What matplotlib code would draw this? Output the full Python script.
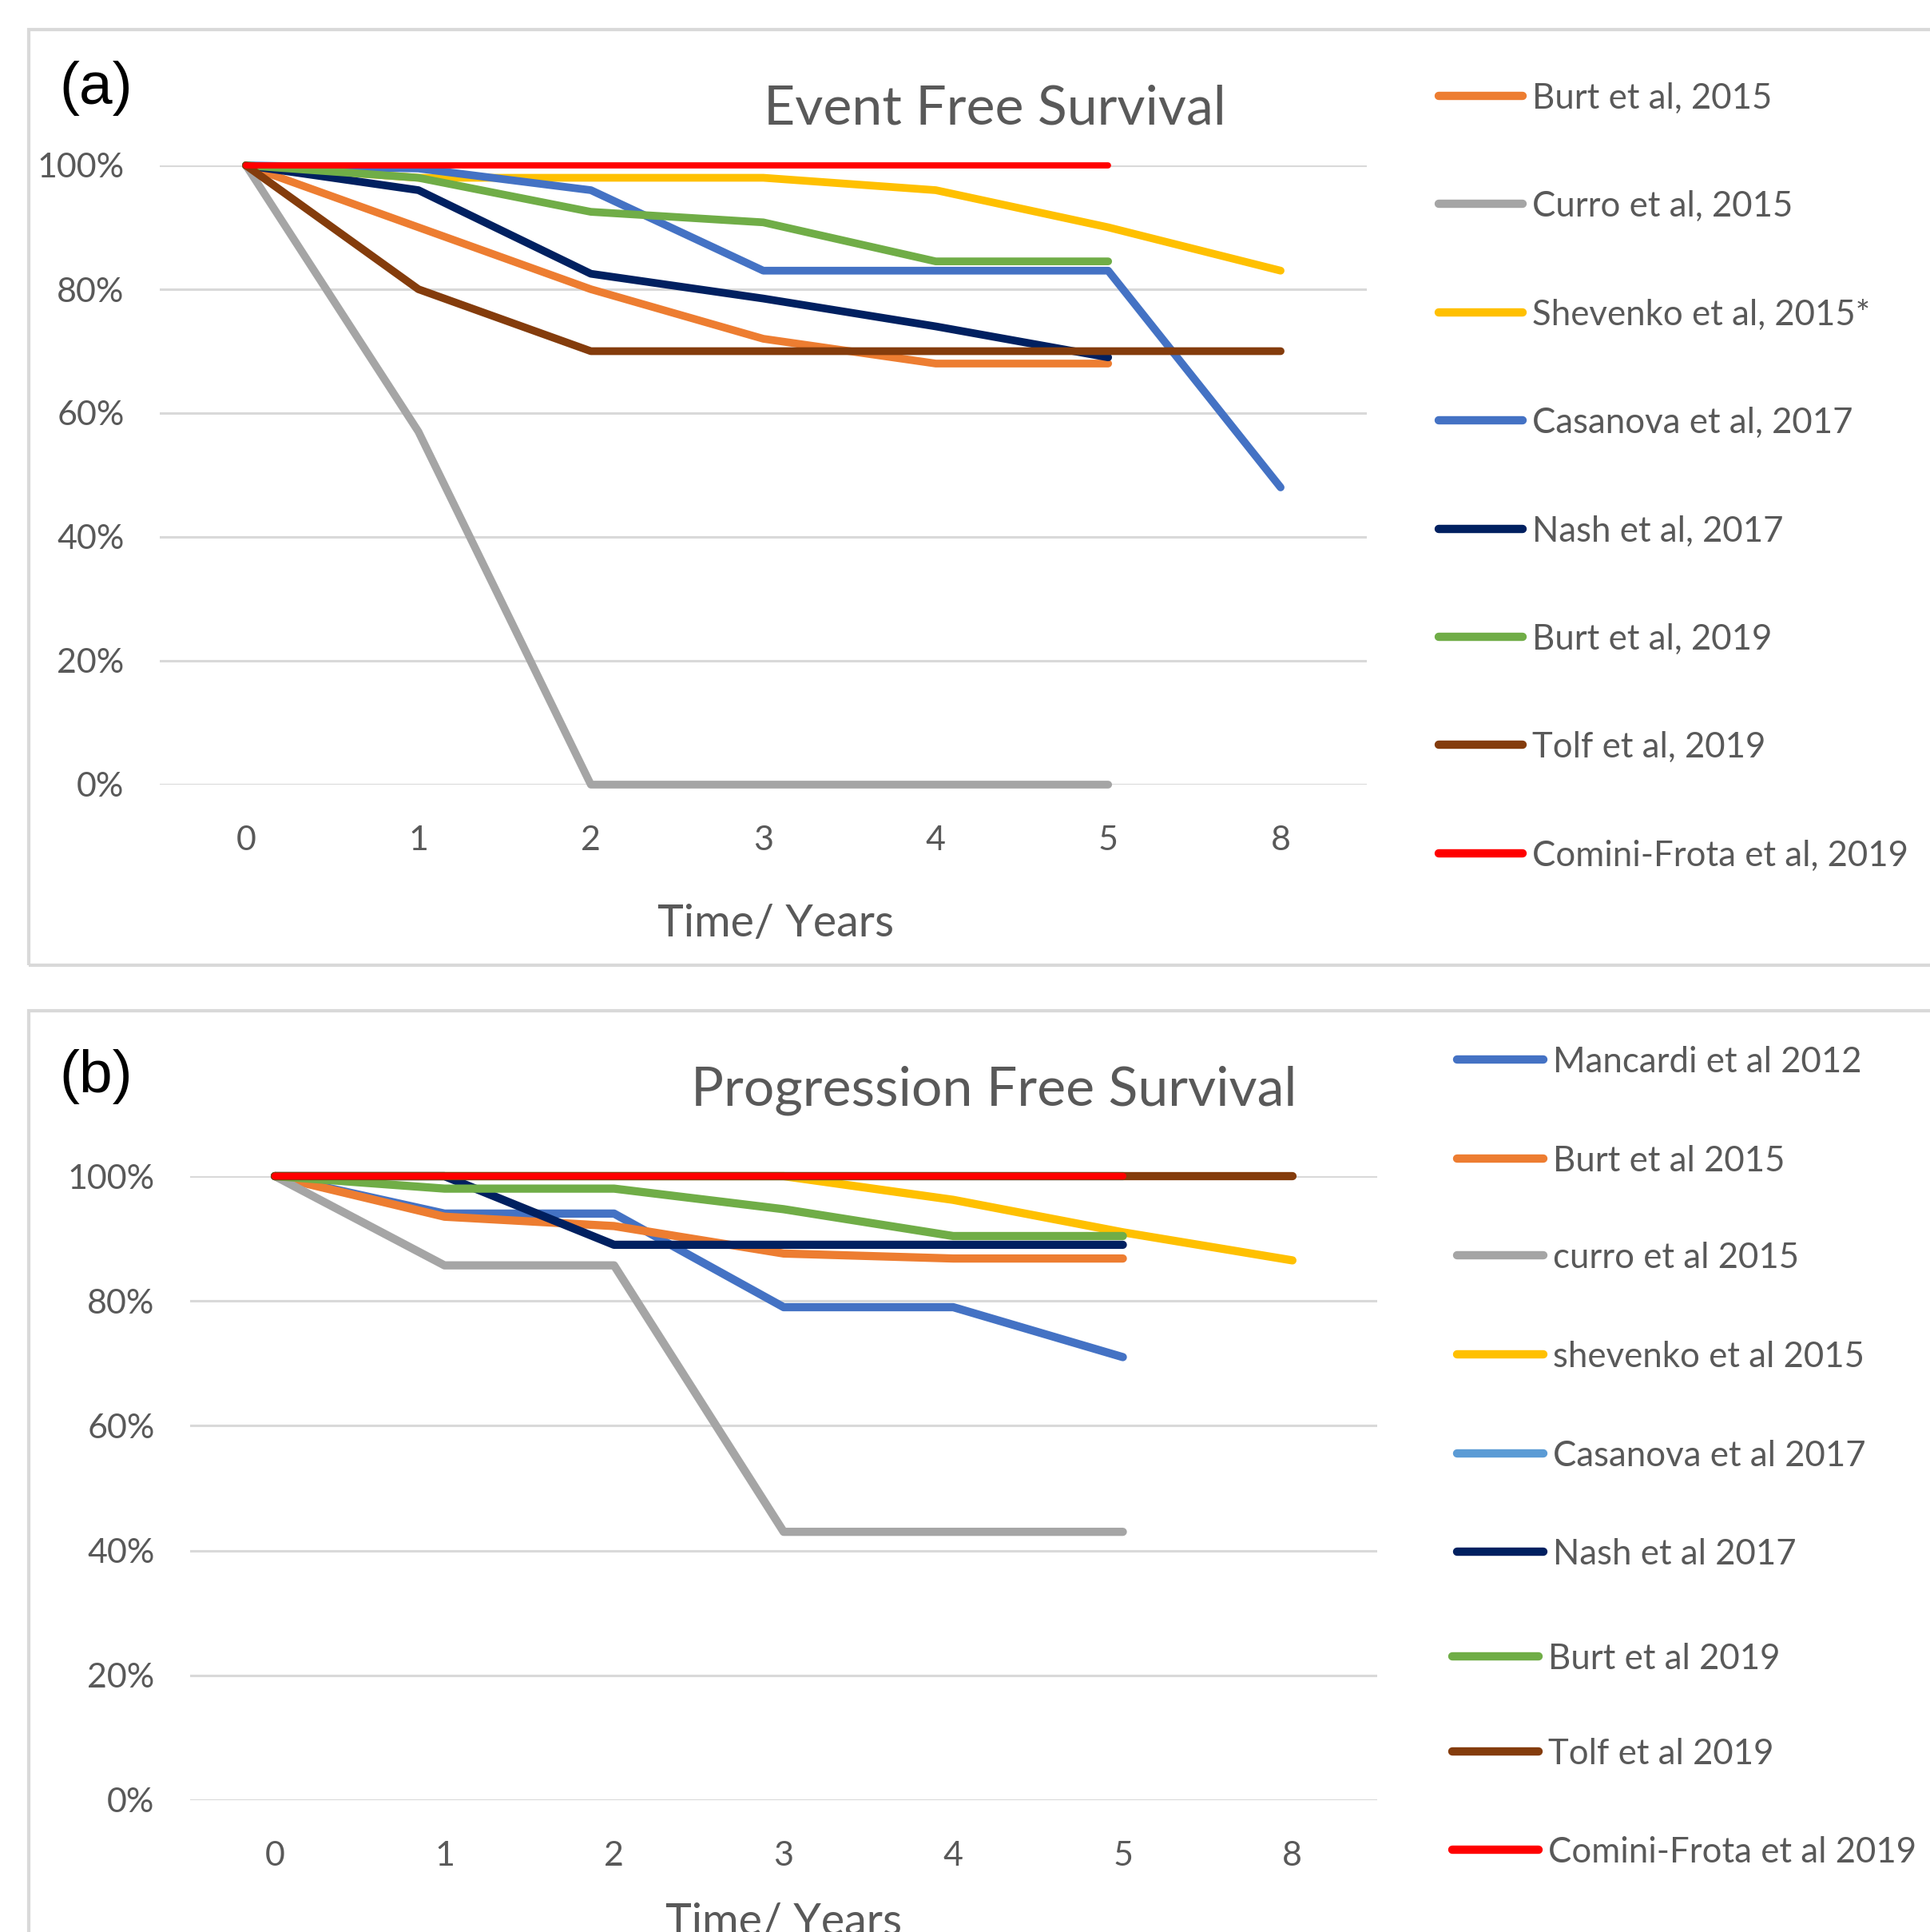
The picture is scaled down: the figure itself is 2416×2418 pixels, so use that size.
import matplotlib
matplotlib.use("Agg")
import matplotlib.pyplot as plt
from matplotlib.lines import Line2D
from matplotlib.patches import Rectangle

# --- data (percent surviving) ---
years = ['0', '1', '2', '3', '4', '5', '8']

# (a) Event free survival
efs_names = ['Burt et al, 2015', 'Curro et al, 2015', 'Shevenko et al, 2015*',
             'Casanova et al, 2017', 'Nash et al, 2017', 'Burt et al, 2019',
             'Tolf et al, 2019', 'Comini-Frota et al, 2019']
efs_burt15 = [100, 90, 80, 72, 68, 68]
efs_curro15 = [100, 57, 0, 0, 0, 0]
efs_shev15 = [100, 98, 98, 98, 96, 90, 83]
efs_casa17 = [100, 99.5, 96, 83, 83, 83, 48]
efs_nash17 = [100, 96, 82.5, 78.5, 74, 69]
efs_burt19 = [100, 98, 92.5, 90.8, 84.5, 84.5]
efs_tolf19 = [100, 80, 70, 70, 70, 70, 70]
efs_comini19 = [100, 100, 100, 100, 100, 100]

# (b) Progression free survival
pfs_names = ['Mancardi et al 2012', 'Burt et al 2015', 'curro et al 2015',
             'shevenko et al 2015', 'Casanova et al 2017', 'Nash et al 2017',
             'Burt et al 2019', 'Tolf et al 2019', 'Comini-Frota et al 2019']
pfs_manc12 = [100, 94, 94, 79, 79, 71]
pfs_burt15 = [100, 93.5, 92, 87.6, 86.8, 86.8]
pfs_curro15 = [100, 85.7, 85.7, 43, 43, 43]
pfs_shev15 = [100, 100, 100, 100, 96.2, 91, 86.5]
pfs_casa17 = [100, 100, 100, 100, 100, 100]
pfs_nash17 = [100, 100, 89, 89, 89, 89]
pfs_burt19 = [100, 98, 98, 94.7, 90.4, 90.4]
pfs_tolf19 = [100, 100, 100, 100, 100, 100, 100]
pfs_comini19 = [100, 100, 100, 100, 100, 100]

efs_series = [efs_burt15, efs_curro15, efs_shev15, efs_casa17, efs_nash17,
              efs_burt19, efs_tolf19, efs_comini19]
pfs_series = [pfs_manc12, pfs_burt15, pfs_curro15, pfs_shev15, pfs_casa17,
              pfs_nash17, pfs_burt19, pfs_tolf19, pfs_comini19]

efs_colors = ['#ED7D31', '#A5A5A5', '#FFC000', '#4472C4', '#002060',
              '#70AD47', '#843C0C', '#FF0000']
pfs_colors = ['#4472C4', '#ED7D31', '#A5A5A5', '#FFC000', '#5B9BD5',
              '#002060', '#70AD47', '#843C0C', '#FF0000']

# --- figure ---
W, H = 2416, 2418
DPI = 100
fig = plt.figure(figsize=(W / DPI, H / DPI), dpi=DPI)
TXT = '#595959'
GRID = '#D9D9D9'
FONT = ['Lato', 'DejaVu Sans']


def fx(px):
    return px / W


def fy(py):
    return 1 - py / H


# panel frames (open on the right / bottom edge of the image)
fig.patches.append(Rectangle((fx(36), fy(1208)), fx(2600), (1208 - 37) / H,
                             transform=fig.transFigure, fill=False,
                             edgecolor=GRID, lw=3))
fig.patches.append(Rectangle((fx(36), fy(2600)), fx(2600), (2600 - 1265) / H,
                             transform=fig.transFigure, fill=False,
                             edgecolor=GRID, lw=3))


def setup_axes(box, series, colors, lw):
    left, top, right, bottom = box
    ax = fig.add_axes([fx(left), fy(bottom), (right - left) / W, (bottom - top) / H])
    for vals, c in zip(series, colors):
        w = lw * 0.8 if c == '#FF0000' else lw
        ax.plot(range(len(vals)), vals, color=c, lw=w, solid_capstyle='round',
                solid_joinstyle='round', clip_on=False)
    ax.set_xlim(-0.5, 6.5)
    ax.set_ylim(0, 100)
    ax.set_yticks([0, 20, 40, 60, 80, 100])
    ax.set_yticklabels([f'{v}%' for v in [0, 20, 40, 60, 80, 100]])
    ax.set_xticks(range(len(years)))
    ax.set_xticklabels(years)
    for s in ax.spines.values():
        s.set_visible(False)
    ax.yaxis.grid(True, color=GRID, lw=2.2)
    ax.set_axisbelow(True)
    ax.tick_params(length=0, labelsize=31, labelcolor=TXT)
    ax.tick_params(axis='y', pad=32)
    ax.tick_params(axis='x', pad=37)
    for lab in ax.get_xticklabels() + ax.get_yticklabels():
        lab.set_family(FONT)
    return ax


ax_a = setup_axes((200, 207, 1711, 982), efs_series, efs_colors, 7.0)
ax_b = setup_axes((238, 1472, 1724, 2253), pfs_series, pfs_colors, 7.4)

# titles, axis titles and panel labels
fig.text(fx(1245), fy(156), 'Event Free Survival', ha='center', va='baseline',
         fontsize=49, color=TXT, family=FONT)
fig.text(fx(1244), fy(1384), 'Progression Free Survival', ha='center', va='baseline',
         fontsize=49, color=TXT, family=FONT)
fig.text(fx(971), fy(1172), 'Time/ Years', ha='center', va='baseline',
         fontsize=40, color=TXT, family=FONT)
fig.text(fx(981), fy(2422), 'Time/ Years', ha='center', va='baseline',
         fontsize=40, color=TXT, family=FONT)
fig.text(fx(120), fy(130), '(a)', ha='center', va='baseline', fontsize=54,
         color='black', family=['Liberation Sans', 'DejaVu Sans'])
fig.text(fx(120), fy(1367), '(b)', ha='center', va='baseline', fontsize=54,
         color='black', family=['Liberation Sans', 'DejaVu Sans'])


# legends drawn beside each panel
def draw_legend(names, colors, rows, lw):
    for name, c, (y, x0, x1, xt) in zip(names, colors, rows):
        fig.add_artist(Line2D([fx(x0), fx(x1)], [fy(y), fy(y)], color=c, lw=lw,
                              solid_capstyle='round', transform=fig.transFigure))
        fig.text(fx(xt), fy(y + 16), name, ha='left', va='baseline',
                 fontsize=31.5, color=TXT, family=FONT)


rows_a = [(120 + i * 135.4, 1801, 1906, 1918) for i in range(8)]
ys_b = [1326, 1450, 1571, 1695, 1819, 1942, 2073, 2192, 2315]
rows_b = [(y, 1824, 1932, 1944) if i < 6 else (y, 1818, 1926, 1938)
          for i, y in enumerate(ys_b)]
draw_legend(efs_names, efs_colors, rows_a, 7.5)
draw_legend(pfs_names, pfs_colors, rows_b, 7.5)

fig.savefig('out.png', dpi=DPI)
